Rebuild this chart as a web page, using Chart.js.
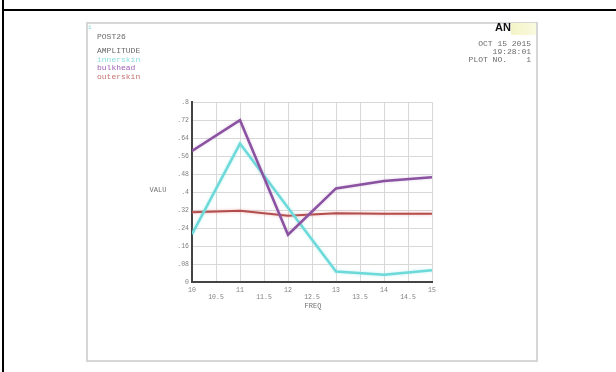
<!DOCTYPE html>
<html><head><meta charset="utf-8">
<script src="https://cdn.jsdelivr.net/npm/chart.js@4/dist/chart.umd.min.js"></script>
<style>html,body{margin:0;padding:0;background:#fff;}canvas{display:block;}</style>
</head><body>
<canvas id="c" width="616" height="372"></canvas>
<script>
const freq = [10, 11, 12, 13, 14, 15];
const innerskin = [0.213, 0.615, 0.33, 0.047, 0.032, 0.052];
const bulkhead = [0.582, 0.719, 0.21, 0.416, 0.449, 0.466];
const outerskin = [0.31, 0.317, 0.294, 0.305, 0.303, 0.303];
const seriesNames = ['innerskin', 'bulkhead', 'outerskin'];
const seriesColors = ['#6dd9d9', '#8a52a0', '#b24f4e'];
const glowColors = ['rgba(140,230,230,0.6)', 'rgba(180,140,200,0.4)', 'rgba(240,150,150,0.7)'];
const legendColors = ['#8fe0e0', '#a060b4', '#c87272'];
const yTickLabels = ['0', '.08', '.16', '.24', '.32', '.4', '.48', '.56', '.64', '.72', '.8'];
const xTickLabels = ['10', '10.5', '11', '11.5', '12', '12.5', '13', '13.5', '14', '14.5', '15'];
const headerLeft = ['POST26', 'AMPLITUDE'];
const headerRight = ['OCT 15 2015', '19:28:01', 'PLOT NO.    1'];
const xTitle = 'FREQ';
const yTitle = 'VALU';

const MONO = '"Liberation Mono", "DejaVu Sans Mono", monospace';

function toPts(arr) { return freq.map((f, i) => ({x: f, y: arr[i]})); }

const decor = {
  id: 'decor',
  beforeDraw(chart) {
    const ctx = chart.ctx;
    ctx.save();
    ctx.fillStyle = '#fff';
    ctx.fillRect(0, 0, 616, 372);
    ctx.fillStyle = '#000';
    ctx.fillRect(3, 9, 613, 2);
    ctx.fillRect(2, 0, 2, 372);
    ctx.strokeStyle = '#d6d6d6';
    ctx.lineWidth = 2;
    ctx.strokeRect(87, 23, 450, 338);
    const g = ctx.createLinearGradient(512, 0, 537, 0);
    g.addColorStop(0, '#f4f4c8');
    g.addColorStop(1, '#fafae0');
    ctx.fillStyle = g;
    ctx.fillRect(511, 23, 25, 12);
    ctx.restore();
  },
  beforeDatasetDraw(chart, args) {
    const ctx = chart.ctx;
    ctx.save();
    const name = chart.data.datasets[args.index].label;
    const k = seriesNames.indexOf(name);
    ctx.shadowColor = glowColors[k];
    ctx.shadowBlur = 3;
  },
  afterDatasetDraw(chart) {
    chart.ctx.restore();
  },
  afterDraw(chart) {
    const ctx = chart.ctx;
    ctx.save();
    ctx.textBaseline = 'middle';
    ctx.textAlign = 'left';
    ctx.fillStyle = '#7fd8d8';
    ctx.font = '6px ' + MONO;
    ctx.fillText('1', 88, 27);
    ctx.font = '8px ' + MONO;
    ctx.fillStyle = '#6a6a6a';
    ctx.fillText(headerLeft[0], 97, 37);
    ctx.fillText(headerLeft[1], 97, 51);
    const ly = [60, 68, 77];
    seriesNames.forEach((n, i) => {
      ctx.fillStyle = legendColors[i];
      ctx.fillText(n, 97, ly[i]);
    });
    ctx.fillStyle = '#6a6a6a';
    ctx.textAlign = 'right';
    const ry = [44, 52, 60];
    headerRight.forEach((t, i) => ctx.fillText(t, 531, ry[i]));
    ctx.fillStyle = '#111';
    ctx.font = 'bold 11px "Liberation Sans", Arial, sans-serif';
    ctx.textAlign = 'left';
    ctx.fillText('AN', 495, 28);
    ctx.fillStyle = '#707070';
    ctx.font = '7px ' + MONO;
    ctx.textAlign = 'center';
    ctx.fillText(yTitle, 158, 190);
    ctx.fillText(xTitle, 313, 306);
    ctx.restore();
  }
};

new Chart(document.getElementById('c'), {
  type: 'line',
  data: {
    datasets: [
      {label: seriesNames[1], data: toPts(bulkhead), borderColor: seriesColors[1], borderWidth: 2.5},
      {label: seriesNames[0], data: toPts(innerskin), borderColor: seriesColors[0], borderWidth: 2.5},
      {label: seriesNames[2], data: toPts(outerskin), borderColor: seriesColors[2], borderWidth: 2}
    ]
  },
  options: {
    responsive: false,
    animation: false,
    devicePixelRatio: 1,
    elements: {point: {radius: 0}, line: {tension: 0}},
    layout: {padding: {left: 152, top: 102, right: 184, bottom: 60}},
    plugins: {legend: {display: false}, tooltip: {enabled: false}},
    scales: {
      x: {
        type: 'linear', min: 10, max: 15,
        afterFit: s => { s.height = 30; },
        grid: {color: '#d8d8d8', lineWidth: 1, drawTicks: false},
        border: {color: '#444', width: 2},
        ticks: {
          stepSize: 0.5, autoSkip: false, maxRotation: 0, minRotation: 0, padding: 5,
          color: '#808080', font: {family: MONO, size: 6.5, lineHeight: 1.1},
          callback: (v) => {
            const i = Math.round((v - 10) * 2);
            return i % 2 === 0 ? [xTickLabels[i]] : ['', xTickLabels[i]];
          }
        }
      },
      y: {
        min: 0, max: 0.8,
        afterFit: s => { s.width = 40; },
        grid: {color: '#d8d8d8', lineWidth: 1, drawTicks: false},
        border: {color: '#444', width: 2},
        ticks: {
          stepSize: 0.08, padding: 3, color: '#808080',
          font: {family: MONO, size: 6.5},
          callback: (v) => yTickLabels[Math.round(v / 0.08)]
        }
      }
    }
  },
  plugins: [decor]
});
</script>
</body></html>
